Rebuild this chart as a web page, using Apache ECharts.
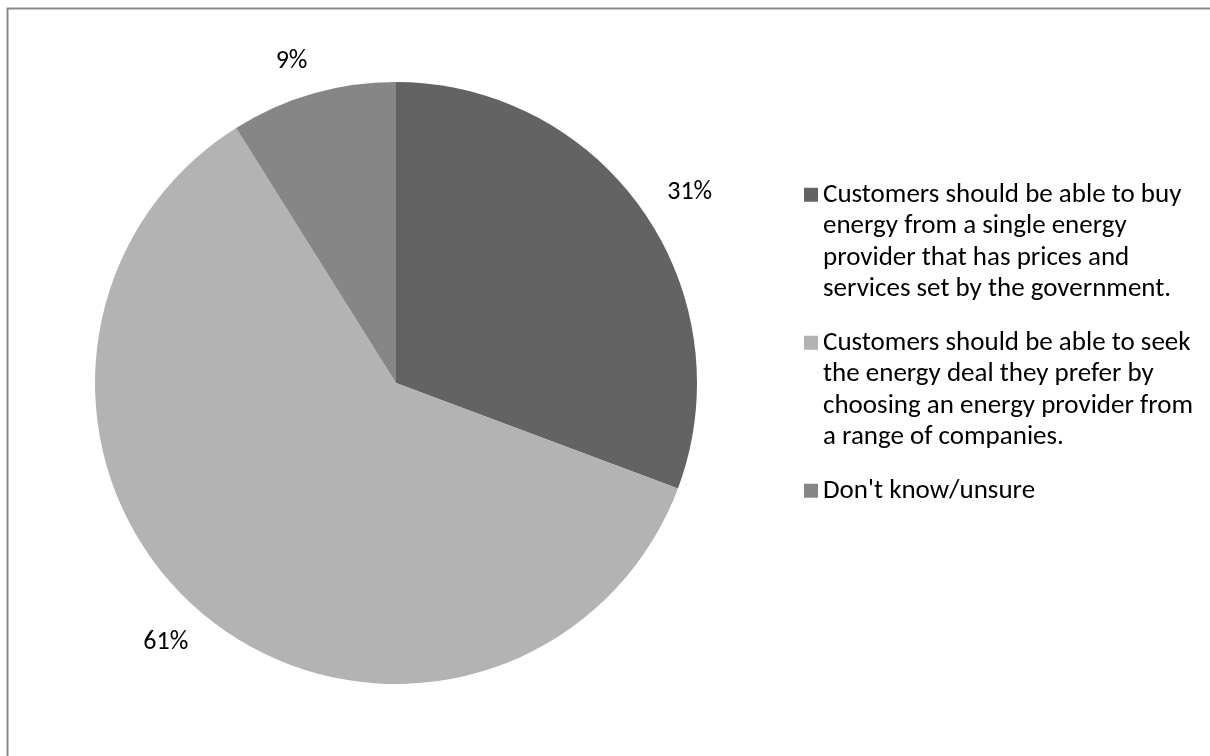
<!DOCTYPE html>
<html>
<head>
<meta charset="utf-8">
<script src="https://cdn.jsdelivr.net/npm/echarts@6/dist/echarts.min.js"></script>
<style>
  html, body { margin: 0; padding: 0; background: #fff; }
  #chart { width: 1210px; height: 756px; }
</style>
</head>
<body>
<div id="chart"></div>
<script>
// Survey answers and their shares (percent)
const categories = [
  'Customers should be able to buy energy from a single energy provider that has prices and services set by the government.',
  'Customers should be able to seek the energy deal they prefer by choosing an energy provider from a range of companies.',
  "Don't know/unsure"
];
const shares = [31, 61, 9];
const sliceColors = ['#636363', '#b3b3b3', '#868686'];

// Legend text broken into lines
const legendLines = [
  ['Customers should be able to buy', 'energy from a single energy', 'provider that has prices and', 'services set by the government.'],
  ['Customers should be able to seek', 'the energy deal they prefer by', 'choosing an energy provider from', 'a range of companies.'],
  ["Don't know/unsure"]
];

const FONT = 'Carlito, Lato, "Liberation Sans", sans-serif';
const LEGEND_FONT_SIZE = 27;
const LINE_H = 31.5;
const MARK = 14;

// Four-line entries: the marker box is as tall as the text block minus one
// line, with the square drawn at its top, so the square lines up with the
// first line of text (ECharts centres the text on the marker box).
const TALL_H = 3 * LINE_H + MARK;
const tallIcon = 'path://M0,0L' + MARK + ',0L' + MARK + ',' + MARK + 'L0,' + MARK +
  'Z M0,' + TALL_H + 'L' + MARK + ',' + TALL_H;

const legendText = {
  fontFamily: FONT,
  fontSize: LEGEND_FONT_SIZE,
  color: '#000',
  lineHeight: LINE_H
};
const legendFormatter = function (name) {
  return legendLines[categories.indexOf(name)].join('\n');
};

const chart = echarts.init(document.getElementById('chart'), null, { renderer: 'canvas' });

chart.setOption({
  backgroundColor: '#ffffff',
  animation: false,
  color: sliceColors,
  graphic: [{
    type: 'rect',
    left: 5, top: 6,
    shape: { x: 0, y: 0, width: 1300, height: 900 },
    style: { fill: 'none', stroke: '#898989', lineWidth: 2 },
    silent: true,
    z: -1
  }],
  legend: [{
    orient: 'vertical',
    left: 799,
    top: 174,
    itemWidth: MARK,
    itemHeight: TALL_H,
    itemGap: 22,
    icon: tallIcon,
    selectedMode: false,
    itemStyle: { borderWidth: 0 },
    data: categories.slice(0, 2),
    formatter: legendFormatter,
    textStyle: legendText
  }, {
    orient: 'vertical',
    left: 799,
    top: 470,
    itemWidth: MARK,
    itemHeight: MARK,
    icon: 'rect',
    selectedMode: false,
    itemStyle: { borderWidth: 0 },
    data: categories.slice(2),
    formatter: legendFormatter,
    textStyle: legendText
  }],
  series: [{
    type: 'pie',
    center: [396, 383],
    radius: 301,
    startAngle: 90,
    clockwise: true,
    avoidLabelOverlap: false,
    itemStyle: { borderWidth: 0 },
    emphasis: { disabled: true },
    label: {
      show: true,
      position: 'outside',
      formatter: '{c}%',
      fontFamily: FONT,
      fontSize: 26,
      color: '#000',
      distanceToLabelLine: -4
    },
    labelLine: { show: false, length: 34, length2: 0 },
    data: categories.map((name, i) => ({ name: name, value: shares[i] }))
  }]
});
</script>
</body>
</html>
